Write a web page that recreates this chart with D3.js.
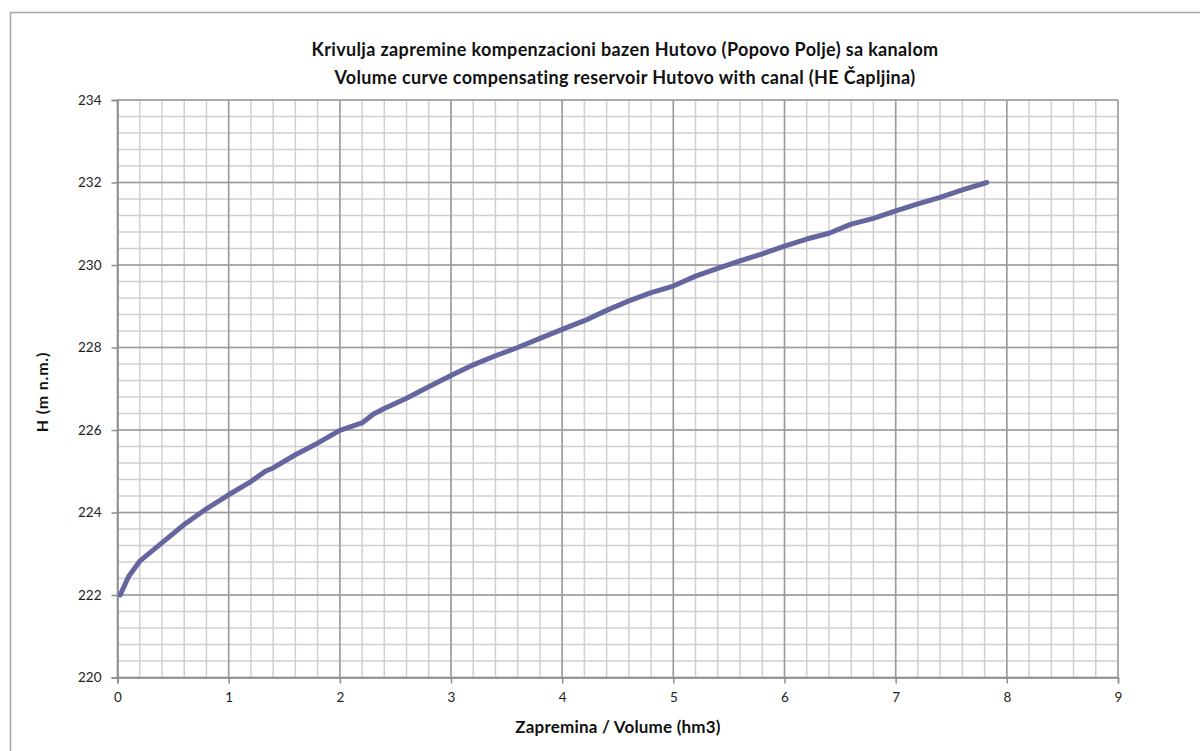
<!DOCTYPE html>
<html>
<head>
<meta charset="utf-8">
<script src="https://cdn.jsdelivr.net/npm/d3@7"></script>
<style>
  html, body { margin: 0; padding: 0; background: #fff; }
  svg { display: block; }
</style>
</head>
<body>
<svg id="chart" width="1200" height="751"></svg>
<script>
const titleLines = [
  "Krivulja zapremine kompenzacioni bazen Hutovo (Popovo Polje) sa kanalom",
  "Volume curve compensating reservoir Hutovo with canal (HE Čapljina)"
];
const xAxisTitle = "Zapremina / Volume (hm3)";
const yAxisTitle = "H (m n.m.)";

const xTicks = [0, 1, 2, 3, 4, 5, 6, 7, 8, 9];
const yTicks = [220, 222, 224, 226, 228, 230, 232, 234];

const volume = [0.024, 0.1, 0.2, 0.38, 0.6, 0.8, 1.0, 1.2, 1.33, 1.4, 1.6, 1.8, 2.0, 2.2, 2.3, 2.4, 2.6, 2.8, 3.0, 3.2, 3.4, 3.6, 3.8, 4.0, 4.2, 4.4, 4.6, 4.8, 5.0, 5.2, 5.4, 5.6, 5.8, 6.0, 6.2, 6.4, 6.6, 6.8, 7.0, 7.2, 7.4, 7.6, 7.82];
const level = [222.0, 222.45, 222.82, 223.22, 223.71, 224.09, 224.43, 224.75, 225.0, 225.08, 225.4, 225.68, 225.99, 226.17, 226.38, 226.52, 226.77, 227.05, 227.32, 227.58, 227.8, 228.0, 228.22, 228.44, 228.65, 228.9, 229.13, 229.33, 229.49, 229.73, 229.92, 230.1, 230.27, 230.46, 230.63, 230.77, 230.99, 231.13, 231.31, 231.48, 231.64, 231.82, 232.0];

const svg = d3.select("#chart");
const pL = 117.5, pR = 1118, pT = 100, pB = 677.5;

const x = d3.scaleLinear().domain([0, 9]).range([pL, pR]);
const y = d3.scaleLinear().domain([220, 234]).range([pB, pT]);

// outer chart border (extends beyond visible area on right/bottom)
svg.append("rect")
  .attr("x", 10.5).attr("y", 12.5)
  .attr("width", 1300).attr("height", 900)
  .attr("fill", "none").attr("stroke", "#a6a6a6").attr("stroke-width", 1.5);

// minor grid
const xMinor = d3.range(0, 9.0001, 0.2).map(v => +v.toFixed(2));
const yMinor = d3.range(220, 234.0001, 0.4).map(v => +v.toFixed(2));
const g = svg.append("g");
g.selectAll("line.xm").data(xMinor).join("line").attr("class", "xm")
  .attr("x1", d => x(d)).attr("x2", d => x(d))
  .attr("y1", pT).attr("y2", pB)
  .attr("stroke", "#cfcfcf").attr("stroke-width", 1.5);
g.selectAll("line.ym").data(yMinor).join("line").attr("class", "ym")
  .attr("y1", d => y(d)).attr("y2", d => y(d))
  .attr("x1", pL).attr("x2", pR)
  .attr("stroke", "#cfcfcf").attr("stroke-width", 1.5);

// major grid
g.selectAll("line.xM").data(xTicks).join("line").attr("class", "xM")
  .attr("x1", d => x(d)).attr("x2", d => x(d))
  .attr("y1", pT).attr("y2", pB)
  .attr("stroke", "#9a9a9a").attr("stroke-width", 1.5);
g.selectAll("line.yM").data(yTicks).join("line").attr("class", "yM")
  .attr("y1", d => y(d)).attr("y2", d => y(d))
  .attr("x1", pL).attr("x2", pR)
  .attr("stroke", "#9a9a9a").attr("stroke-width", 1.5);

// axes
const yAxis = d3.axisLeft(y).tickValues(yTicks).tickSize(6).tickPadding(10).tickFormat(d3.format("d"));
const xAxis = d3.axisBottom(x).tickValues(xTicks).tickSize(6).tickPadding(9).tickFormat(d3.format("d"));

const ya = svg.append("g").attr("transform", `translate(${pL},0)`).call(yAxis);
const xa = svg.append("g").attr("transform", `translate(0,${pB})`).call(xAxis);
[ya, xa].forEach(a => {
  a.select(".domain").attr("stroke", "#8c8c8c").attr("stroke-width", 1.5);
  a.selectAll(".tick line").attr("stroke", "#8c8c8c").attr("stroke-width", 1.5);
  a.selectAll(".tick text").attr("font-family", "Lato, 'Open Sans', sans-serif")
    .attr("font-size", 13.5).attr("fill", "#222");
});

// curve
const pts = volume.map((v, i) => [v, level[i]]);
svg.append("path")
  .datum(pts)
  .attr("d", d3.line().x(d => x(d[0])).y(d => y(d[1])))
  .attr("fill", "none")
  .attr("stroke", "#65659f")
  .attr("stroke-width", 5)
  .attr("stroke-linejoin", "round")
  .attr("stroke-linecap", "round");

// titles
const font = "Lato, 'Open Sans', sans-serif";
svg.append("text").attr("x", 625).attr("y", 56)
  .attr("text-anchor", "middle").attr("font-family", font)
  .attr("font-weight", "bold").attr("font-size", 18).attr("letter-spacing", 0.35).attr("fill", "#111")
  .text(titleLines[0]);
svg.append("text").attr("x", 625).attr("y", 84)
  .attr("text-anchor", "middle").attr("font-family", font)
  .attr("font-weight", "bold").attr("font-size", 18).attr("letter-spacing", 0.35).attr("fill", "#111")
  .text(titleLines[1]);

svg.append("text").attr("x", 618).attr("y", 733)
  .attr("text-anchor", "middle").attr("font-family", font)
  .attr("font-weight", "bold").attr("font-size", 17).attr("letter-spacing", 0.2).attr("fill", "#111")
  .text(xAxisTitle);

svg.append("text")
  .attr("transform", "translate(48,392) rotate(-90)")
  .attr("text-anchor", "middle").attr("font-family", font)
  .attr("font-weight", "bold").attr("font-size", 16).attr("letter-spacing", 0.8).attr("fill", "#111")
  .text(yAxisTitle);
</script>
</body>
</html>
